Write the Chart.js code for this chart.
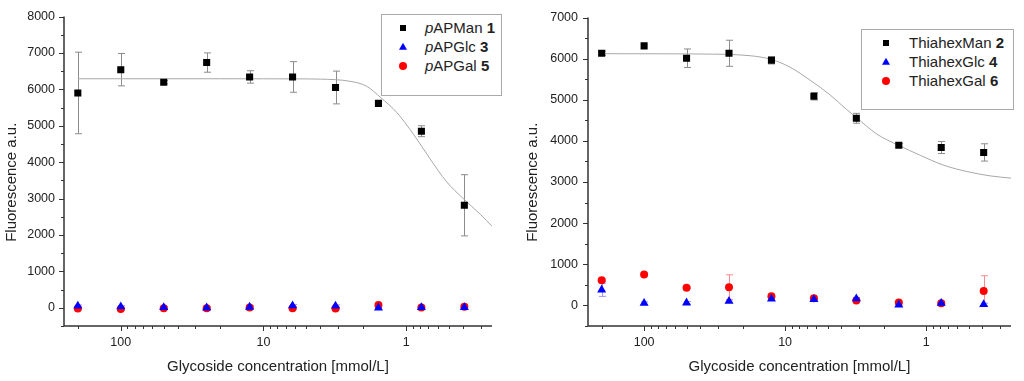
<!DOCTYPE html>
<html>
<head>
<meta charset="utf-8">
<script src="https://cdn.jsdelivr.net/npm/chart.js@4.4.0/dist/chart.umd.min.js"></script>
<style>
  body { margin: 0; background: #fff; }
  #wrap { position: relative; width: 1024px; height: 381px; overflow: hidden; }
  canvas { position: absolute; top: 0; }
  .legenda { position: absolute; box-sizing: border-box; border: 1px solid #aaa; background: #fff; }
  .legenda span { position: absolute; }
  .txt { font: 15px "Liberation Sans", Arial, sans-serif; color: #222; line-height: 18px; white-space: nowrap; }
  .sq { width: 6px; height: 6px; background: #000; transform: translate(-50%, -50%); }
  .tri { width: 0; height: 0; border-left: 4.5px solid transparent; border-right: 4.5px solid transparent; border-bottom: 7.5px solid #0000ff; transform: translate(-50%, -60%); }
  .ci { width: 8px; height: 8px; border-radius: 50%; background: #ff0000; transform: translate(-50%, -50%); }
</style>
</head>
<body>
<div id="wrap">
  <canvas id="graficoA" width="512" height="381" style="left:0"></canvas>
  <canvas id="graficoB" width="512" height="381" style="left:512px"></canvas>
  <div class="legenda" id="legendaA" style="left:381px;top:14px;width:121px;height:82px"></div>
  <div class="legenda" id="legendaB" style="left:861px;top:29px;width:153px;height:81px"></div>
</div>
<script>
// concentrations [mmol/L], same for every series
const concentrations = [200, 100, 50, 25, 12.5, 6.25, 3.125, 1.5625, 0.78125, 0.390625];

// left panel
const pAPMan1 = [5900, 6540, 6195, 6735, 6340, 6340, 6050, 5615, 4850, 2815];
const pAPMan1Err = [1120, 445, 45, 265, 170, 420, 450, 45, 150, 840];
const pAPGlc3 = [50, 30, 10, 0, 20, 60, 50, 0, 10, 10];
const pAPGlc3Err = [30, 30, 30, 30, 30, 30, 30, 30, 30, 30];
const pAPGal5 = [-20, -30, -10, -10, 10, -15, -20, 80, 10, 30];
const pAPGal5Err = [30, 30, 30, 30, 30, 30, 30, 30, 30, 30];
// fitted curve
const fitConcA = [200, 100, 50, 20, 10, 6, 4, 2.47, 1.89, 1.5, 1.16, 0.89, 0.68, 0.52, 0.4, 0.3, 0.25];
const fitValuesA = [6290, 6290, 6290, 6290, 6289, 6287, 6280, 6220, 6085, 5767, 5360, 4771, 4093, 3461, 3008, 2558, 2240];

// right panel
const thiaMan2 = [6130, 6310, 6010, 6130, 5960, 5085, 4550, 3895, 3840, 3720];
const thiaMan2Err = [50, 0, 225, 317, 90, 90, 120, 40, 147, 210];
const thiaGlc4 = [380, 56, 64, 104, 160, 144, 165, 16, 56, 24];
const thiaGlc4Err = [160, 30, 30, 30, 30, 30, 30, 30, 30, 30];
const thiaGal6 = [610, 755, 430, 445, 224, 176, 120, 72, 56, 352];
const thiaGal6Err = [30, 20, 20, 300, 30, 30, 30, 30, 30, 370];
const fitConcB = [200, 100, 40, 17.7, 12.4, 9.23, 6.65, 4.8, 3.66, 3.11, 2.24, 1.56, 1.1, 0.755, 0.513, 0.352, 0.25];
const fitValuesB = [6120, 6118, 6112, 6071, 5976, 5793, 5476, 5119, 4762, 4564, 4167, 3888, 3650, 3412, 3255, 3150, 3095];

// log axis ticks (reversed axis, high to low)
const xTicks = [200, 100, 90, 80, 70, 60, 50, 40, 30, 20, 10, 9, 8, 7, 6, 5, 4, 3, 2, 1, 0.9, 0.8, 0.7, 0.6, 0.5, 0.4, 0.3];
const xMajorTicks = [100, 10, 1];

const legendA = ['<i>p</i>APMan <b>1</b>', '<i>p</i>APGlc <b>3</b>', '<i>p</i>APGal <b>5</b>'];
const legendB = ['ThiahexMan <b>2</b>', 'ThiahexGlc <b>4</b>', 'ThiahexGal <b>6</b>'];

Chart.defaults.font.family = '"Liberation Sans", Arial, sans-serif';
Chart.defaults.color = '#222';

const pontos = (xs, ys) => xs.map((x, i) => ({ x: x, y: ys[i] }));

// error bars drawn under the markers
const errorBars = {
    id: 'errorBars',
    beforeDatasetsDraw(chart) {
        const ctx = chart.ctx;
        const sx = chart.scales.x, sy = chart.scales.y;
        chart.data.datasets.forEach(ds => {
            if (!ds.errors) return;
            ctx.save();
            ctx.strokeStyle = ds.errorColor;
            ctx.lineWidth = 1;
            ds.data.forEach((p, i) => {
                const e = ds.errors[i];
                if (!e) return;
                const px = Math.round(sx.getPixelForValue(p.x)) + 0.5;
                const t = sy.getPixelForValue(p.y + e);
                const b = sy.getPixelForValue(p.y - e);
                ctx.beginPath();
                ctx.moveTo(px, t); ctx.lineTo(px, b);
                ctx.moveTo(px - 3.5, t); ctx.lineTo(px + 3.5, t);
                ctx.moveTo(px - 3.5, b); ctx.lineTo(px + 3.5, b);
                ctx.stroke();
            });
            ctx.restore();
        });
    }
};

// origin-like axes: left + bottom line with outward ticks
const originAxes = {
    id: 'originAxes',
    afterDraw(chart, args, opts) {
        const ctx = chart.ctx;
        const { left, right, top, bottom } = chart.chartArea;
        const sx = chart.scales.x, sy = chart.scales.y;
        ctx.save();
        ctx.strokeStyle = '#333';
        ctx.lineWidth = 1;
        ctx.beginPath();
        sx.ticks.forEach(t => {
            const px = Math.round(sx.getPixelForValue(t.value)) + 0.5;
            const len = xMajorTicks.includes(t.value) ? 5 : 3;
            ctx.moveTo(px, bottom); ctx.lineTo(px, bottom + len);
        });
        sy.ticks.forEach(t => {
            const py = Math.round(sy.getPixelForValue(t.value)) + 0.5;
            const len = t.value % 1000 === 0 ? 5 : 3;
            ctx.moveTo(left, py); ctx.lineTo(left - len, py);
        });
        ctx.stroke();
        ctx.lineWidth = 1.5;
        ctx.beginPath();
        ctx.moveTo(left, top); ctx.lineTo(left, bottom); ctx.lineTo(right, bottom);
        ctx.stroke();
        // y title, sits a bit below the middle of the axis
        ctx.translate(opts.titleX, (top + bottom) / 2 + opts.titleShift);
        ctx.rotate(-Math.PI / 2);
        ctx.font = '15px "Liberation Sans", Arial, sans-serif';
        ctx.fillStyle = '#222';
        ctx.textAlign = 'center';
        ctx.textBaseline = 'middle';
        ctx.fillText('Fluorescence a.u.', 0, 0);
        ctx.restore();
    }
};

function criarGrafico(id, series, fitX, fitY, yMax, cfg) {
    const datasets = series.map(s => ({
        label: s.label,
        data: pontos(concentrations, s.values),
        errors: s.errors,
        errorColor: s.errorColor,
        pointStyle: s.style,
        pointRadius: s.radius,
        pointHoverRadius: s.radius,
        backgroundColor: s.color,
        borderWidth: 0
    }));
    datasets.push({
        label: 'fit',
        data: pontos(fitX, fitY),
        showLine: true,
        pointRadius: 0,
        borderColor: '#a8a8a8',
        borderWidth: 1,
        cubicInterpolationMode: 'monotone'
    });

    return new Chart(document.getElementById(id), {
        type: 'scatter',
        data: { datasets: datasets },
        options: {
            responsive: false,
            animation: false,
            events: [],
            layout: { padding: { top: cfg.top, right: cfg.right, bottom: 0, left: 0 } },
            plugins: {
                legend: { display: false },
                tooltip: { enabled: false },
                originAxes: { titleX: cfg.titleX, titleShift: cfg.titleShift }
            },
            scales: {
                x: {
                    type: 'logarithmic',
                    reverse: true,
                    min: 0.25,
                    max: 250,
                    afterBuildTicks: s => { s.ticks = xTicks.map(v => ({ value: v })); },
                    afterFit: s => { s.height = 55; },
                    grid: { display: false, drawTicks: false },
                    border: { display: false },
                    ticks: {
                        autoSkip: false,
                        maxRotation: 0,
                        padding: 9,
                        font: { size: 12.5 },
                        callback: v => xMajorTicks.includes(v) ? String(v) : ''
                    },
                    title: {
                        display: true,
                        text: 'Glycoside concentration [mmol/L]',
                        font: { size: 15 },
                        padding: { top: 0, bottom: 5 }
                    }
                },
                y: {
                    min: -500,
                    max: yMax,
                    afterFit: s => { s.width = cfg.axisLeft; },
                    grid: { display: false, drawTicks: false },
                    border: { display: false },
                    ticks: {
                        stepSize: 500,
                        padding: cfg.tickPad,
                        font: { size: 12.5 },
                        callback: v => v % 1000 === 0 ? String(v) : ''
                    }
                }
            }
        },
        plugins: [errorBars, originAxes]
    });
}

criarGrafico('graficoA', [
    { label: 'pAPMan 1', values: pAPMan1, errors: pAPMan1Err, errorColor: '#8c8c8c', style: 'rect', radius: 5, color: '#000000' },
    { label: 'pAPGlc 3', values: pAPGlc3, errors: pAPGlc3Err, errorColor: '#9a9aff', style: 'triangle', radius: 5.2, color: '#0000ff' },
    { label: 'pAPGal 5', values: pAPGal5, errors: pAPGal5Err, errorColor: '#ff8c8c', style: 'circle', radius: 4, color: '#ff0000' }
], fitConcA, fitValuesA, 8000, { top: 13, right: 20, axisLeft: 64, tickPad: 9, titleX: 11.5, titleShift: 11 });

criarGrafico('graficoB', [
    { label: 'ThiahexMan 2', values: thiaMan2, errors: thiaMan2Err, errorColor: '#8c8c8c', style: 'rect', radius: 5, color: '#000000' },
    { label: 'ThiahexGlc 4', values: thiaGlc4, errors: thiaGlc4Err, errorColor: '#9a9aff', style: 'triangle', radius: 5.2, color: '#0000ff' },
    { label: 'ThiahexGal 6', values: thiaGal6, errors: thiaGal6Err, errorColor: '#ff8c8c', style: 'circle', radius: 4, color: '#ff0000' }
], fitConcB, fitValuesB, 7000, { top: 11, right: 13, axisLeft: 76, tickPad: 10, titleX: 21, titleShift: 10.5 });

// legends (html so the italic / bold parts stay text)
function montarLegenda(id, nomes, mx, tx) {
    const box = document.getElementById(id);
    const formas = ['sq', 'tri', 'ci'];
    nomes.forEach((nome, i) => {
        const cy = 12.5 + i * 19;
        box.innerHTML += `<span class="${formas[i]}" style="left:${mx}px;top:${cy}px"></span>` +
            `<span class="txt" style="left:${tx}px;top:${cy - 9}px">${nome}</span>`;
    });
}
montarLegenda('legendaA', legendA, 21, 43);
montarLegenda('legendaB', legendB, 24, 47);
</script>
</body>
</html>
